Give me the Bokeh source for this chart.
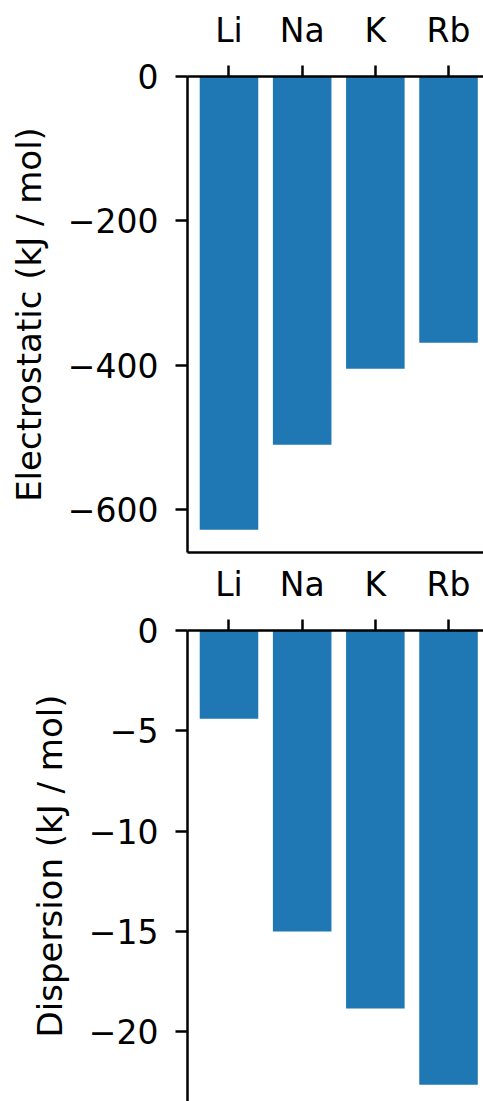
from bokeh.plotting import figure
from bokeh.layouts import column
from bokeh.models import Range1d, FixedTicker, LinearAxis
from bokeh.embed import file_html
from bokeh.resources import INLINE

categories = ["Li", "Na", "K", "Rb"]
electrostatic = [-628, -510, -405, -369]
dispersion = [-4.4, -15.0, -18.85, -22.65]
elec_ticks = [0, -200, -400, -600]
elec_tick_labels = ["0", "\u2212200", "\u2212400", "\u2212600"]
disp_ticks = [0, -5, -10, -15, -20]
disp_tick_labels = ["0", "\u22125", "\u221210", "\u221215", "\u221220"]

FONT = "DejaVu Sans"
FS = "33px"
LFS = "34px"
BAR = "#1f77b4"
LW = 2.5


def make(values, ticks, tick_labels, ylabel, ymin, height, top_border, bottom_border, bottom_spine):
    x = list(range(len(categories)))
    p = figure(width=483, height=height,
               x_range=Range1d(-0.567, 3.478), y_range=Range1d(ymin, 0),
               x_axis_location="above", output_backend="svg", toolbar_location=None,
               min_border_left=187, min_border_right=0,
               min_border_top=top_border, min_border_bottom=bottom_border)
    p.vbar(x=x, top=0, bottom=values, width=0.8, fill_color=BAR, line_color=None)
    p.xgrid.visible = False
    p.ygrid.visible = False
    p.outline_line_color = None
    p.background_fill_color = "white"
    p.border_fill_color = "white"

    xa = p.xaxis[0]
    xa.ticker = FixedTicker(ticks=x)
    xa.major_label_overrides = {i: c for i, c in zip(x, categories)}
    xa.minor_tick_line_color = None
    xa.major_tick_in = 0
    xa.major_tick_out = 11
    xa.axis_line_width = LW
    xa.major_tick_line_width = LW
    xa.axis_line_color = "black"
    xa.major_tick_line_color = "black"
    xa.major_label_text_font = FONT
    xa.major_label_text_font_size = FS
    xa.major_label_text_color = "black"
    xa.major_label_standoff = 16

    ya = p.yaxis[0]
    ya.ticker = FixedTicker(ticks=ticks)
    ya.major_label_overrides = {t: l for t, l in zip(ticks, tick_labels)}
    ya.minor_tick_line_color = None
    ya.major_tick_in = 0
    ya.major_tick_out = 12
    ya.axis_line_width = LW
    ya.major_tick_line_width = LW
    ya.axis_line_color = "black"
    ya.major_tick_line_color = "black"
    ya.major_label_text_font = FONT
    ya.major_label_text_font_size = FS
    ya.major_label_text_color = "black"
    ya.major_label_standoff = 17
    ya.axis_label = ylabel
    ya.axis_label_text_font = FONT
    ya.axis_label_text_font_size = LFS
    ya.axis_label_text_font_style = "normal"
    ya.axis_label_text_color = "black"
    ya.axis_label_standoff = 16

    if bottom_spine:
        ba = LinearAxis(ticker=FixedTicker(ticks=[]), major_tick_out=0, major_tick_in=0,
                        minor_tick_out=0, minor_tick_in=0, major_label_standoff=0,
                        axis_line_width=LW, axis_line_color="black")
        p.add_layout(ba, "below")
    return p


p1 = make(electrostatic, elec_ticks, elec_tick_labels, "Electrostatic (kJ / mol)",
          -659.4, 560, 76, 8, True)
p2 = make(dispersion, disp_ticks, disp_tick_labels, "Dispersion (kJ / mol)",
          -23.48, 541, 70, 0, False)

layout = column(p1, p2)
open("out.html", "w").write(file_html(layout, INLINE))
